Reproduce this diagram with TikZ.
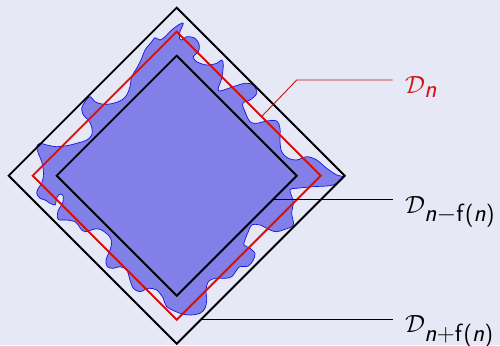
\documentclass[tikz,border=0pt]{standalone}
\usepackage{amsmath}
\DeclareMathAlphabet{\mathsfit}{OT1}{cmss}{m}{sl}
\DeclareMathSizes{29}{29}{23}{18}
\definecolor{bgc}{RGB}{231,232,245}
\definecolor{blobfill}{RGB}{128,128,232}
\definecolor{blobline}{RGB}{20,20,225}
\definecolor{dred}{RGB}{210,16,16}
\tikzset{
  blobstyle/.style={fill=blobfill, draw=blobline, line width=0.7pt},
  diamondline/.style={line width=1.9pt, line join=miter},
  leader/.style={line width=0.9pt},
  lbl/.style={anchor=base west, inner sep=0pt, font=\fontsize{29}{32}\selectfont}
}
\begin{document}
\begin{tikzpicture}[x=1pt,y=-1pt]
\useasboundingbox (0,0) rectangle (500,345);
\fill[bgc] (0,0) rectangle (500,345);
% centre
\coordinate (c) at (176.7,175.7);
% wavy region
\draw[blobstyle] plot[smooth cycle, tension=0.55] coordinates {
(183.3,23.3) (180,31.7) (179.5,38) (181.5,40) (186.7,36.7) (195,38.3) (199.3,45)
(198.3,51.7) (193.3,56.7) (196.7,61.7) (206.7,65) (216.7,63.3) (221.7,60) (223.3,65)
(221.7,78.3) (218.3,88.3) (220,91) (233.3,86.7) (245,83.3) (253.3,85) (256.7,93.3)
(250,100) (242.7,103.3) (245,111.7) (250,121.7) (256.7,123.3) (266.7,121) (276.7,121)
(280,128.3) (280,141.7) (281.7,151.7) (288.3,158.3) (296.7,160) (306.7,156.7)
(316.7,160) (326.7,168.3) (336.7,175) (343.3,177.3) (333.3,185) (313.3,186.7)
(296.7,188.3) (290,190) (293.3,201.7) (291.7,213.3) (293.3,225) (285,229.3)
(276.7,231.7) (270,230) (260,225) (251.7,225) (248.3,231.7) (245,240) (244,245)
(250,248.3) (255,253.3) (253.3,260) (248.3,266) (240,266.7) (236.7,270) (231.7,276.7)
(225,278.3) (215,278.3) (208.3,281.7) (206,290) (206.7,300) (205,308.3) (200,313.3)
(190,315) (180,313.3) (166.7,306.7) (163.3,298.3) (156.7,290) (148.3,288.3)
(140,291.7) (133.3,288.3) (130,280) (126.7,270) (120,266.7) (113.3,268.3)
(107.3,266.7) (106,260) (110,250) (111.7,241.7) (108.3,235) (100,229.3) (93.3,229.3)
(86.7,231.7) (81.7,230) (78.3,225) (75,221.7) (66.7,220) (59.3,220) (57.3,216.7)
(58.3,210) (61.7,205) (63.3,200) (62.7,195) (60,194) (57.3,196.7) (56,201.7)
(55,205) (50,203.3) (45,200) (40,198.3) (36.7,193.3) (38.3,188.3) (41.7,183.3)
(43.3,176.7) (43.3,170) (41.7,161.7) (38.3,153.3) (36.7,146.7) (40,143.3)
(46.7,145) (56.7,146.7) (66.7,145.7) (76.7,143.3) (86.7,140) (91.7,135) (91.7,126.7)
(88.3,120) (83.3,115) (81.7,108.3) (85,101.7) (90,96.7) (95,101.7) (103.3,104.3)
(113.3,103.3) (121.7,100) (126.7,95) (130,86.7) (131.7,76.7) (136.7,68.3)
(141.7,58.3) (145,50) (151.7,41.7) (155,37.7) (160,40) (165,36.7) (171.7,30)
(178.3,25)};
% inner diamond D_{n-f(n)}
\coordinate (iT) at (176.7,55.7);
\coordinate (iR) at (296.7,175.7);
\coordinate (iB) at (176.7,295.7);
\coordinate (iL) at (56.7,175.7);
\draw[diamondline, fill=blobfill, draw=black] (iT) -- (iR) -- (iB) -- (iL) -- cycle;
% red diamond D_n
\coordinate (rT) at (176.7,31.7);
\coordinate (rR) at (320.7,175.7);
\coordinate (rB) at (176.7,319.7);
\coordinate (rL) at (32.7,175.7);
\draw[diamondline, draw=dred] (rT) -- (rR) -- (rB) -- (rL) -- cycle;
% outer diamond D_{n+f(n)}
\coordinate (oT) at (176.7,7.7);
\coordinate (oR) at (344.7,175.7);
\coordinate (oB) at (176.7,343.7);
\coordinate (oL) at (8.7,175.7);
\draw[diamondline, draw=black] (oT) -- (oR) -- (oB) -- (oL) -- cycle;
% leader lines
\coordinate (a1) at (261.7,116.5);
\coordinate (a2) at (296.7,80);
\coordinate (a3) at (392.7,80);
\coordinate (b1) at (273.3,199.3);
\coordinate (b2) at (392.7,199.3);
\coordinate (c1) at (201,319.4);
\coordinate (c2) at (392.7,319.4);
\draw[leader, dred] (a1) -- (a2) -- (a3);
\draw[leader, black] (b1) -- (b2);
\draw[leader, black] (c1) -- (c2);
% labels
\node[lbl, text=dred] (ln) at (405,93.3) {$\mathcal{D}_{\mathsfit{n}}$};
\node[lbl] (lm) at (405,213) {$\mathcal{D}_{\mathsfit{n}-\mathsf{f}\textsf{(}\mathsfit{n}\textsf{)}}$};
\node[lbl] (lp) at (405,332.5) {$\mathcal{D}_{\mathsfit{n}+\mathsf{f}\textsf{(}\mathsfit{n}\textsf{)}}$};
\end{tikzpicture}
\end{document}
